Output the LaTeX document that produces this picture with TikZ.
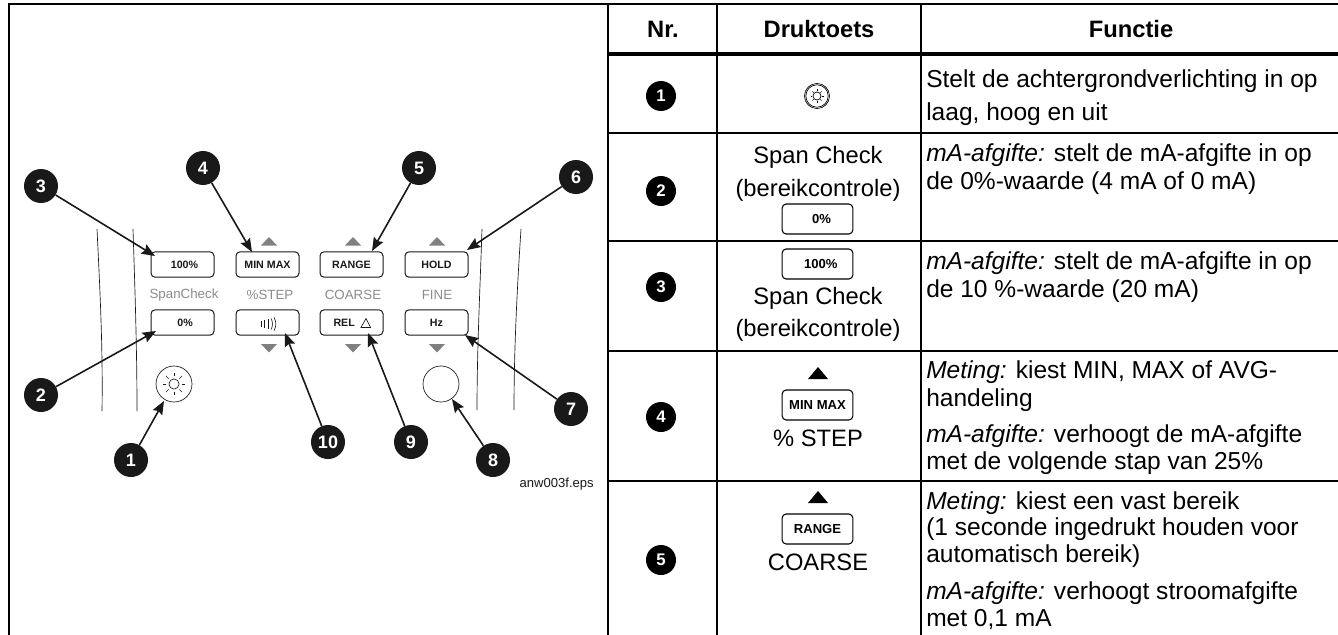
\documentclass[tikz,border=0pt]{standalone}
\usepackage{fontspec}
\setmainfont{Liberation Sans}
\usetikzlibrary{arrows.meta}
\definecolor{ink}{gray}{0.1}
\definecolor{lab}{gray}{0.55}
\definecolor{tri}{gray}{0.5}
\newcommand{\sz}[1]{\fontsize{#1}{#1}\selectfont}
\tikzset{
  x=0.75pt,y=-0.75pt,
  frameline/.style={line width=1.5pt,black},
  headline/.style={line width=2.6pt,black},
  callout/.style={circle,fill=ink,text=white,inner sep=0pt,minimum size=25.5pt,font=\sz{13.5}\bfseries},
  tcall/.style={circle,fill=black,text=white,inner sep=0pt,minimum size=22.5pt,font=\sz{12.6}\bfseries},
  key/.style={draw=ink,line width=0.75pt,rounded corners=3pt,inner sep=0pt,minimum width=47.25pt,minimum height=19pt,text=ink,font=\sz{8}\bfseries},
  tkey/.style={draw=black,line width=0.8pt,rounded corners=3pt,inner sep=0pt,minimum width=53pt,minimum height=22.5pt,font=\sz{9.8}\bfseries},
  graylabel/.style={inner sep=0pt,text=lab,font=\sz{10}},
  arr/.style={line width=1.2pt,ink,-{Stealth[length=10pt,width=8pt,inset=1.5pt]}},
  curve/.style={line width=0.5pt,ink},
  body/.style={inner sep=0pt,anchor=base west,font=\sz{18.4}},
  mid/.style={inner sep=0pt,font=\sz{17.8}},
  head/.style={inner sep=0pt,anchor=base,font=\sz{17.8}\bfseries},
}
\begin{document}
\begin{tikzpicture}
\useasboundingbox (0,0) rectangle (1338,635);
\fill[white] (0,0) rectangle (1338,635);
% table grid
\draw[frameline] (9,635) -- (9,4) -- (1338,4);
\foreach \xx in {608,717,921} \draw[frameline] (\xx,4) -- (\xx,635);
\draw[headline] (608,54) -- (1338,54);
\foreach \yy in {133,241,351,481} \draw[frameline] (608,\yy) -- (1338,\yy);
% housing curves
\draw[curve] (97,229) .. controls (100,290) and (103,350) .. (102,411);
\draw[curve] (133,229) .. controls (135,290) and (137,350) .. (137,411);
\draw[curve] (482,229) .. controls (480,290) and (477,350) .. (477,410);
\draw[curve] (521,229) .. controls (517,290) and (514,350) .. (514,410);
% keys
\node[key] (k100) at (182.5,264.5) {\hspace*{3pt}100\%};
\node[key] (k0) at (182.5,322.5) {\hspace*{4pt}0\%};
\node[key] (kmm) at (267.5,264.5) {MIN MAX};
\node[key] (kwave) at (267.5,322.5) {};
\node[key] (krange) at (351.5,264.5) {RANGE};
\node[key] (krel) at (351.5,322.5) {REL\hspace*{11pt}};
\node[key] (khold) at (436.5,264.5) {HOLD};
\node[key] (khz) at (436.5,322.5) {Hz};
% wave icon
\draw[ink,line width=0.45pt] (261,321) -- (261,327) (264.5,320) -- (264.5,328) (268,319) -- (268,329);
\draw[ink,line width=0.45pt] (271,318.5) .. controls (273,322) and (273,326) .. (271,329.5);
\draw[ink,line width=0.45pt] (274,317.5) .. controls (276.5,322) and (276.5,326) .. (274,330.5);
% delta on REL
\draw[ink,line width=0.5pt,line join=miter] (361,327.5) -- (366,318.5) -- (370.5,327.5) -- cycle;
% up/down triangles
\foreach \xx in {269,353,437} {
  \fill[tri] (\xx-8,245.5) -- (\xx,237) -- (\xx+8,245.5) -- cycle;
  \fill[tri] (\xx-8,344) -- (\xx,352.5) -- (\xx+8,344) -- cycle;
}
% panel labels
\node[graylabel] (lspan) at (184,295) {SpanCheck};
\node[graylabel] (lstep) at (270,295) {\%STEP};
\node[graylabel] (lcoarse) at (353,295) {COARSE};
\node[graylabel] (lfine) at (437,295) {FINE};
% round keys
\node[draw=ink,line width=0.5pt,circle,minimum size=27pt,inner sep=0pt] (kback) at (174,384) {};
\node[draw=ink,line width=0.5pt,circle,minimum size=27pt,inner sep=0pt] (kround) at (441,384) {};
\draw[ink,line width=0.5pt] (174,384) circle[radius=3.8pt];
\foreach \a in {0,45,...,315} \draw[ink,line width=0.5pt] (174,384) ++(\a:7.6 and 7.6) ++(0,0) -- ++(\a:3.8 and 3.8);
% callouts
\node[callout] (c1) at (131,460) {1};
\node[callout] (c2) at (41,395) {2};
\node[callout] (c3) at (41,186) {3};
\node[callout] (c4) at (203,168) {4};
\node[callout] (c5) at (419,168) {5};
\node[callout] (c6) at (576,177) {6};
\node[callout] (c7) at (571,409) {7};
\node[callout] (c8) at (493,460) {8};
\node[callout] (c9) at (411,442) {9};
\node[callout] (c10) at (328,442) {10};
\coordinate (t1) at (164,401);
\coordinate (t2) at (156,331);
\coordinate (t3) at (155,256);
\coordinate (t4) at (252,252);
\coordinate (t5) at (372,251);
\coordinate (t6) at (467,250);
\coordinate (t7) at (465,335);
\coordinate (t8) at (452,399);
\coordinate (t9) at (368,333);
\coordinate (t10) at (285,333);
\foreach \i in {1,...,10} \draw[arr] (c\i) -- (t\i);
\node[inner sep=0pt,anchor=east,font=\sz{9.8},text=ink] (eps) at (594,484) {anw003f.eps};
% table header
\node[head] (hnr) at (663,38) {Nr.};
\node[head] (hkey) at (819,38) {Druktoets};
\node[head] (hfun) at (1131,38) {Functie};
% table numbers
\node[tcall] (n1) at (661,96) {1};
\node[tcall] (n2) at (661,191) {2};
\node[tcall] (n3) at (661,287) {3};
\node[tcall] (n4) at (661,417) {4};
\node[tcall] (n5) at (661,560) {5};
% row 1 icon
\draw[black,line width=0.5pt] (817,96) circle[radius=9.4pt];
\draw[black,line width=0.5pt] (817,96) circle[radius=8.4pt];
\draw[black,line width=0.5pt] (817,96) circle[radius=3pt];
\foreach \a in {0,45,...,315} \draw[black,line width=0.5pt] (817,96) ++(\a:4.7 and 4.7) -- ++(\a:1.8 and 1.8);
% row 2
\node[mid] (s2a) at (818,157) {Span Check};
\node[mid] (s2b) at (818,190) {(bereikcontrole)};
\node[tkey] (b2) at (817.5,219) {\hspace*{6pt}0\%};
% row 3
\node[tkey] (b3) at (817.5,264) {\hspace*{5pt}100\%};
\node[mid] (s3a) at (818,298) {Span Check};
\node[mid] (s3b) at (818,330) {(bereikcontrole)};
% row 4
\fill[black] (808,379) -- (818,367) -- (828,379) -- cycle;
\node[tkey] (b4) at (817.5,405) {MIN MAX};
\node[mid] (s4) at (818,438) {\% STEP};
% row 5
\fill[black] (808,503) -- (818,491) -- (828,503) -- cycle;
\node[tkey] (b5) at (817.5,529) {RANGE};
\node[mid] (s5) at (818,562) {COARSE};
% function text
\node[body] (f1a) at (926,88) {Stelt de achtergrondverlichting in op};
\node[body] (f1b) at (926,120) {laag, hoog en uit};
\node[body] (f2a) at (926,161) {\textit{mA-afgifte:} stelt de mA-afgifte in op};
\node[body] (f2b) at (926,189) {de 0\%-waarde (4 mA of 0 mA)};
\node[body] (f3a) at (926,269) {\textit{mA-afgifte:} stelt de mA-afgifte in op};
\node[body] (f3b) at (926,297) {de 10 \%-waarde (20 mA)};
\node[body] (f4a) at (926,378) {\textit{Meting:} kiest MIN, MAX of AVG-};
\node[body] (f4b) at (926,406) {handeling};
\node[body] (f4c) at (926,442) {\textit{mA-afgifte:} verhoogt de mA-afgifte};
\node[body] (f4d) at (926,469) {met de volgende stap van 25\%};
\node[body] (f5a) at (926,509) {\textit{Meting:} kiest een vast bereik};
\node[body] (f5b) at (926,535) {(1 seconde ingedrukt houden voor};
\node[body] (f5c) at (926,562) {automatisch bereik)};
\node[body] (f5d) at (926,599) {\textit{mA-afgifte:} verhoogt stroomafgifte};
\node[body] (f5e) at (926,626) {met 0,1 mA};
\end{tikzpicture}
\end{document}
